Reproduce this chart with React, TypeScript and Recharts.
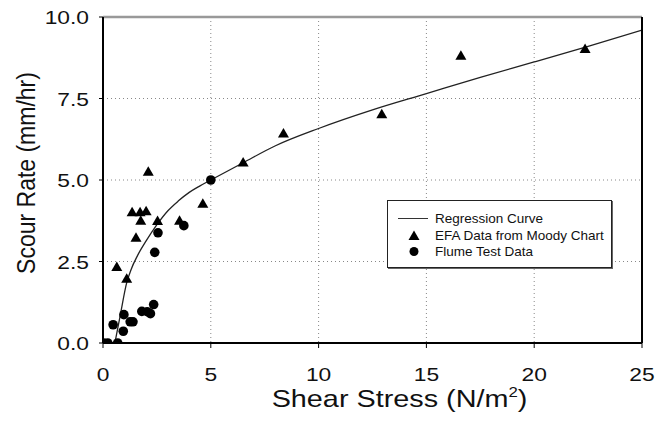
import React from "react";
import { ComposedChart, Line, Scatter, XAxis, YAxis, CartesianGrid } from "recharts";

// EFA data (triangles)
const efaShear = [0.64, 1.1, 1.35, 1.72, 2.0, 1.75, 1.53, 2.1, 2.53, 3.55, 4.63, 6.5, 8.37, 12.93, 16.6, 22.36];
const efaRate = [2.33, 1.97, 4.01, 4.01, 4.04, 3.75, 3.23, 5.25, 3.74, 3.75, 4.27, 5.54, 6.43, 7.02, 8.81, 9.02];

// flume test data (circles)
const flumeShear = [0.03, 0.22, 0.68, 0.47, 0.94, 0.97, 1.26, 1.39, 1.8, 2.05, 2.2, 2.35, 2.4, 2.55, 3.75, 5.0];
const flumeRate = [0, 0, 0, 0.56, 0.36, 0.87, 0.65, 0.65, 0.97, 0.96, 0.9, 1.18, 2.78, 3.38, 3.6, 5.0];

// regression curve
const curveShear = [0.55, 0.8, 1.1, 1.3, 1.6, 2.0, 2.5, 3.0, 3.5, 4.0, 4.5, 5.0, 6.5, 8.0, 10, 12.5, 15, 17.5, 20, 22.5, 25];
const curveRate = [0, 0.85, 1.85, 2.25, 2.68, 3.13, 3.63, 4.05, 4.36, 4.62, 4.82, 5.0, 5.53, 6.05, 6.58, 7.15, 7.65, 8.15, 8.62, 9.1, 9.6];

const xTicks = [0, 5, 10, 15, 20, 25];
const yTicks = [0, 2.5, 5, 7.5, 10];
const xMinorTicks = [0, 1, 2, 3, 4, 5, 6, 7, 8, 9, 10, 11, 12, 13, 14, 15, 16, 17, 18, 19, 20, 21, 22, 23, 24, 25];
const yMinorTicks = [0, 0.5, 1, 1.5, 2, 2.5, 3, 3.5, 4, 4.5, 5, 5.5, 6, 6.5, 7, 7.5, 8, 8.5, 9, 9.5, 10];

const efaData = efaShear.map((x, i) => ({ x, y: efaRate[i] }));
const flumeData = flumeShear.map((x, i) => ({ x, y: flumeRate[i] }));
const curveData = curveShear.map((x, i) => ({ x, y: curveRate[i] }));

const FONT = "'Liberation Sans', Arial, Helvetica, sans-serif";

const XTick = ({ x, y, payload }: any) => (
  <g transform={`translate(${x},${y + 33})`}>
    <text transform="scale(1.2,1)" textAnchor="middle" fontSize={19} fontFamily={FONT} fill="#111">
      {payload.value}
    </text>
  </g>
);

const YTick = ({ x, y, payload }: any) => (
  <g transform={`translate(${x - 10},${y + 7})`}>
    <text transform="scale(1.2,1)" textAnchor="end" fontSize={19} fontFamily={FONT} fill="#111">
      {Number(payload.value).toFixed(1)}
    </text>
  </g>
);

const XTitle = ({ viewBox }: any) => (
  <g transform={`translate(${viewBox.x + viewBox.width / 2 + 27},${viewBox.y + 64})`}>
    <text transform="scale(1.2,1)" textAnchor="middle" fontSize={24} fontFamily={FONT} fill="#111">
      Shear Stress (N/m
      <tspan dy={-10} fontSize={14}>2</tspan>
      <tspan dy={10}>)</tspan>
    </text>
  </g>
);

const YTitle = ({ viewBox }: any) => (
  <g transform={`translate(${viewBox.x + 26},${viewBox.y + 156}) rotate(-90)`}>
    <text transform="scale(1,1.15)" textAnchor="middle" dy="0.35em" fontSize={23} fontFamily={FONT} fill="#111">
      Scour Rate (mm/hr)
    </text>
  </g>
);

const Triangle = ({ cx, cy }: any) => (
  <polygon points={`${cx},${cy - 5.5} ${cx + 5.5},${cy + 4} ${cx - 5.5},${cy + 4}`} fill="#000" />
);

const Dot = ({ cx, cy }: any) => <circle cx={cx} cy={cy} r={4.8} fill="#000" />;

function LegendBox() {
  return (
    <div
      style={{
        position: "absolute",
        left: 387,
        top: 200,
        width: 223,
        height: 66,
        border: "1px solid #222",
        boxShadow: "1px 1px 0 #666",
        background: "#fff",
        fontFamily: FONT,
        fontSize: 13.5,
        color: "#111",
      }}
    >
      {[
        { label: "Regression Curve", kind: "line" },
        { label: "EFA Data from Moody Chart", kind: "tri" },
        { label: "Flume Test Data", kind: "dot" },
      ].map((it, i) => (
        <div key={it.label} style={{ position: "absolute", left: 0, top: 9 + i * 16.5, height: 17, display: "flex", alignItems: "center" }}>
          <svg width={47} height={17} style={{ display: "block" }}>
            {it.kind === "line" && <line x1={10} x2={40} y1={8.5} y2={8.5} stroke="#333" strokeWidth={1} />}
            {it.kind === "tri" && <Triangle cx={26} cy={9} />}
            {it.kind === "dot" && <circle cx={26} cy={8.5} r={4.5} fill="#000" />}
          </svg>
          <span style={{ whiteSpace: "nowrap" }}>{it.label}</span>
        </div>
      ))}
    </div>
  );
}

export default function App() {
  return (
    <div style={{ position: "absolute", left: 0, top: 0, width: 655, height: 421, background: "#fff" }}>
      <ComposedChart width={655} height={421} margin={{ top: 17, right: 13, left: 0, bottom: 0 }}>
        <CartesianGrid strokeDasharray="1 3" stroke="#888" />
        <XAxis
          type="number"
          dataKey="x"
          domain={[0, 25]}
          allowDataOverflow
          ticks={xTicks}
          height={78}
          tickSize={5}
          tickMargin={0}
          axisLine={{ stroke: "#000", strokeWidth: 2 }}
          tickLine={{ stroke: "#000" }}
          tick={<XTick />}
          label={{ content: <XTitle /> }}
        />
        <XAxis
          xAxisId="minor"
          type="number"
          dataKey="x"
          domain={[0, 25]}
          allowDataOverflow
          ticks={xMinorTicks}
          mirror
          tickSize={4}
          axisLine={false}
          tickLine={{ stroke: "#000" }}
          tick={false}
        />
        <XAxis
          xAxisId="top"
          orientation="top"
          type="number"
          dataKey="x"
          domain={[0, 25]}
          allowDataOverflow
          mirror
          axisLine={{ stroke: "#999", strokeWidth: 2.5 }}
          tickLine={false}
          tick={false}
        />
        <YAxis
          type="number"
          dataKey="y"
          domain={[0, 10]}
          allowDataOverflow
          ticks={yTicks}
          width={103}
          tickSize={4}
          tickMargin={0}
          axisLine={{ stroke: "#000", strokeWidth: 2 }}
          tickLine={{ stroke: "#000" }}
          tick={<YTick />}
          label={{ content: <YTitle /> }}
        />
        <YAxis
          yAxisId="minor"
          type="number"
          dataKey="y"
          domain={[0, 10]}
          allowDataOverflow
          ticks={yMinorTicks}
          mirror
          tickSize={3}
          axisLine={false}
          tickLine={{ stroke: "#000" }}
          tick={false}
        />
        <YAxis
          yAxisId="right"
          orientation="right"
          type="number"
          dataKey="y"
          domain={[0, 10]}
          allowDataOverflow
          mirror
          axisLine={{ stroke: "#000", strokeWidth: 2 }}
          tickLine={false}
          tick={false}
        />
        <Line
          data={curveData}
          dataKey="y"
          type="monotone"
          stroke="#222"
          strokeWidth={1.3}
          dot={false}
          isAnimationActive={false}
        />
        <Scatter data={efaData} shape={<Triangle />} isAnimationActive={false} />
        <Scatter data={flumeData} shape={<Dot />} isAnimationActive={false} />
      </ComposedChart>
      <LegendBox />
    </div>
  );
}
